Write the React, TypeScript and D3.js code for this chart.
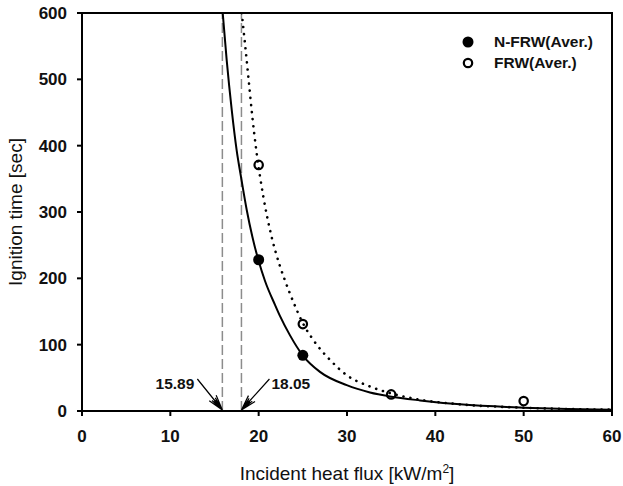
import React from "react";
import * as d3 from "d3";

// Measured data points
const fluxNFRW = [20, 25];
const timeNFRW = [228, 84];
const fluxFRW = [20, 25, 35, 50];
const timeFRW = [371, 131, 25, 15];

// Fitted curves
const fitNFRWx = [15.93, 16.38, 16.95, 17.51, 18.0, 18.65, 19.28, 19.96, 20.72, 21.85, 22.42, 23.55, 24.98, 26.94, 29.97, 32.6, 34.87, 38.27, 42.8, 50, 55, 60];
const fitNFRWy = [600, 529, 454, 393, 353, 303, 263, 228, 196, 160, 143, 114, 84, 59, 39, 28, 22, 16, 10, 5, 3, 2];
const fitFRWx = [18.08, 18.45, 18.83, 19.28, 19.77, 20.53, 21.28, 22.42, 23.0, 24.0, 24.98, 26.19, 28.08, 29.97, 32.6, 34.87, 38.27, 42.4, 50, 55, 60];
const fitFRWy = [600, 554, 504, 444, 389, 323, 273, 218, 196, 162, 133, 107, 77, 54, 37, 27, 17, 10.5, 5, 3, 2];

// Critical heat flux annotations
const criticalFlux = [15.89, 18.05];
const criticalLabels = ["15.89", "18.05"];

const xTicks = [0, 10, 20, 30, 40, 50, 60];
const yTicks = [0, 100, 200, 300, 400, 500, 600];

const legendLabels = ["N-FRW(Aver.)", "FRW(Aver.)"];

const FONT = "Arial, 'Liberation Sans', Helvetica, sans-serif";

export default function App() {
  const W = 623, H = 486;
  const left = 82, right = 612, top = 13, bottom = 411;
  const x = d3.scaleLinear().domain([0, 60]).range([left, right]);
  const y = d3.scaleLinear().domain([0, 600]).range([bottom, top]);

  const line = d3
    .line<[number, number]>()
    .x((d) => x(d[0]))
    .y((d) => y(d[1]))
    .curve(d3.curveMonotoneX);

  const nfrwPath = line(fitNFRWx.map((v, i) => [v, fitNFRWy[i]]) as [number, number][]) || "";
  const frwPath = line(fitFRWx.map((v, i) => [v, fitFRWy[i]]) as [number, number][]) || "";

  const arrowHead = (tx: number, ty: number, fx: number, fy: number) => {
    const ang = Math.atan2(fy - ty, fx - tx);
    const segs: string[] = [];
    const spec: [number, number][] = [
      [0.28, 16],
      [-0.28, 16],
      [0.15, 14],
      [-0.15, 14],
      [0.07, 12],
      [-0.07, 12],
    ];
    for (const [da, len] of spec) {
      const a = ang + da;
      segs.push(`M${tx},${ty}L${tx + len * Math.cos(a)},${ty + len * Math.sin(a)}`);
    }
    return segs.join("");
  };

  const annOffsets = [
    { dx: -25, dy: -31, tx: -3, anchor: "end" },
    { dx: 28, dy: -31, tx: 2, anchor: "start" },
  ];

  return (
    <svg
      width={W}
      height={H}
      style={{ position: "absolute", left: 0, top: 0, background: "#fff" }}
      fontFamily={FONT}
    >
      <rect x={0} y={0} width={W} height={H} fill="#fff" />
      <defs>
        <clipPath id="plotclip">
          <rect x={left} y={top} width={right - left} height={bottom - top} />
        </clipPath>
      </defs>

      {/* critical flux dashed lines */}
      {criticalFlux.map((c, i) => (
        <line
          key={"cl" + i}
          x1={x(c)}
          x2={x(c)}
          y1={y(0)}
          y2={y(600)}
          stroke="#8c8c8c"
          strokeWidth={1.5}
          strokeDasharray="10,4"
        />
      ))}

      {/* fitted curves */}
      <g clipPath="url(#plotclip)">
        <path d={nfrwPath} fill="none" stroke="#000" strokeWidth={2} />
        <path
          d={frwPath}
          fill="none"
          stroke="#000"
          strokeWidth={2.6}
          strokeDasharray="0.1,7"
          strokeLinecap="round"
        />
      </g>

      {/* data points */}
      {fluxNFRW.map((f, i) => (
        <circle key={"n" + i} cx={x(f)} cy={y(timeNFRW[i])} r={5.5} fill="#000" />
      ))}
      {fluxFRW.map((f, i) => (
        <circle
          key={"f" + i}
          cx={x(f)}
          cy={y(timeFRW[i])}
          r={4.2}
          fill="none"
          stroke="#000"
          strokeWidth={2.2}
        />
      ))}

      {/* frame */}
      <path
        d={`M${left},${top}H${right}V${bottom}H${left}Z`}
        fill="none"
        stroke="#000"
        strokeWidth={2}
      />

      {/* x axis ticks */}
      {xTicks.map((t) => (
        <g key={"xt" + t}>
          <line x1={x(t)} x2={x(t)} y1={bottom} y2={bottom + 5} stroke="#000" strokeWidth={2} />
          <text
            x={x(t)}
            y={442}
            textAnchor="middle"
            fontSize={17}
            fontWeight="bold"
            fill="#111"
          >
            {t}
          </text>
        </g>
      ))}

      {/* y axis ticks */}
      {yTicks.map((t) => (
        <g key={"yt" + t}>
          <line x1={left - 5} x2={left} y1={y(t)} y2={y(t)} stroke="#000" strokeWidth={2} />
          <text
            x={67}
            y={y(t) + 6}
            textAnchor="end"
            fontSize={17}
            fontWeight="bold"
            fill="#111"
          >
            {t}
          </text>
        </g>
      ))}

      {/* axis titles */}
      <text x={347} y={480} textAnchor="middle" fontSize={19} fill="#111">
        Incident heat flux [kW/m
        <tspan dy={-7} fontSize={12}>
          2
        </tspan>
        <tspan dy={7}>]</tspan>
      </text>
      <text
        transform={`translate(22,${(top + bottom) / 2}) rotate(-90)`}
        textAnchor="middle"
        fontSize={19}
        fill="#111"
      >
        Ignition time [sec]
      </text>

      {/* annotations */}
      {criticalFlux.map((c, i) => {
        const tx = x(c);
        const ty = y(0) - 1;
        const o = annOffsets[i];
        const fx = tx + o.dx;
        const fy = ty + o.dy;
        return (
          <g key={"an" + i}>
            <path
              d={`M${fx},${fy}L${tx},${ty}` + arrowHead(tx, ty, fx, fy)}
              fill="none"
              stroke="#000"
              strokeWidth={1.2}
            />
            <text
              x={fx + o.tx}
              y={389}
              textAnchor={o.anchor as any}
              fontSize={15.5}
              fontWeight="bold"
              fill="#111"
            >
              {criticalLabels[i]}
            </text>
          </g>
        );
      })}

      {/* legend */}
      <circle cx={468} cy={42} r={5.5} fill="#000" />
      <circle cx={468} cy={63} r={4.2} fill="none" stroke="#000" strokeWidth={2.2} />
      <text x={494} y={47} fontSize={15.5} fontWeight="bold" fill="#111">
        {legendLabels[0]}
      </text>
      <text x={494} y={68} fontSize={15.5} fontWeight="bold" fill="#111">
        {legendLabels[1]}
      </text>
    </svg>
  );
}
